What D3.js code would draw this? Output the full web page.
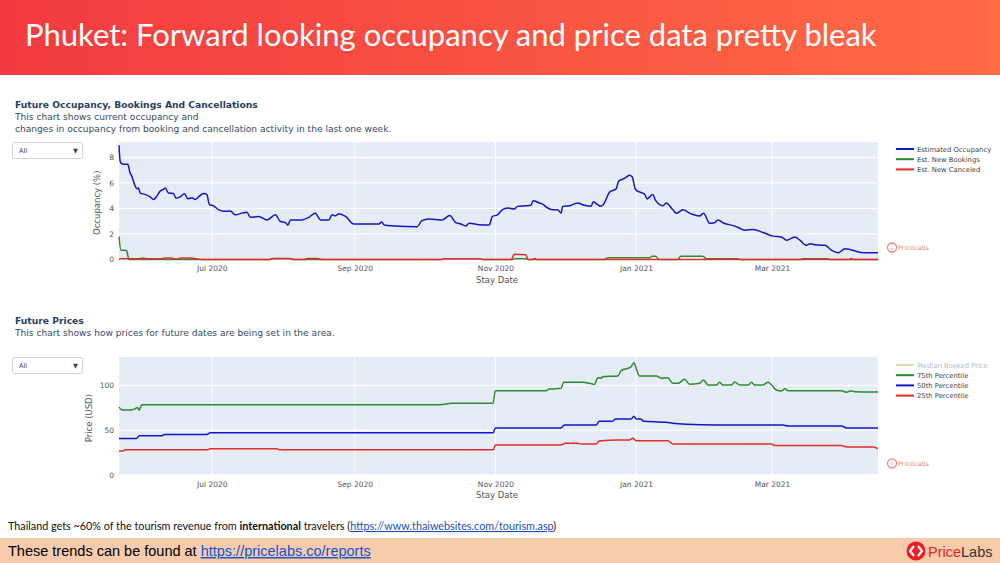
<!DOCTYPE html>
<html><head><meta charset="utf-8">
<script src="https://cdn.jsdelivr.net/npm/d3@7"></script>
<style>body{margin:0;background:#fff} svg{display:block}</style>
</head><body>
<svg id="c" width="1000" height="563"></svg>
<script>
// ---------- DATA ----------
const startDate = "2020-05-21";           // day offset 0
const endOffset = 330;
const xTickDates = ["2020-07-01","2020-09-01","2020-11-01","2021-01-01","2021-03-01"];
const xTickLabels = ["Jul 2020","Sep 2020","Nov 2020","Jan 2021","Mar 2021"];
const occTicks = [0,2,4,6,8];
const priceTicks = [0,50,100];

// Estimated Occupancy (%)
const occDays = [0.7,1.2,2,3.3,4.5,5.5,6.2,7.7,8.4,9.1,9.9,12,14.2,15.7,17.1,18.6,20,20.7,22.2,24.3,25.4,27.2,29.1,30.6,32.3,33.8,35.2,37.4,38.8,39.9,41.7,43.9,46.1,49,51.2,54.1,56.2,57.7,61.3,64.9,68.6,70.7,72.9,74,75.1,80.1,83,85.9,88.1,91.7,93.2,94.6,96.1,99,102.6,113.5,114.6,115.7,120,130.1,132,135.2,141,144.2,146.8,149,151.2,152.6,157,161.3,162.7,164.9,167.1,169.3,172.2,173.6,177.3,179.4,180.4,183,184.5,186.7,188.8,191,192.5,193.2,196.1,199.7,202.6,205.5,206.5,208.4,209.9,211.3,213.5,216.4,217.5,220,222.2,223.3,224.8,226.5,228.7,229.9,230.9,232.3,233.5,236.7,238.1,241,242.5,245.3,249,252.6,254.3,257,259.1,260.6,262.7,267.1,269.3,272.2,275.8,280.1,284.5,288.1,290.3,293.9,296.1,299,300.4,302.6,307,309.9,312.7,315.7,317.9,320.7,323.6,330];
const occValues = [8.94,7.7,7.5,7.45,7.45,6.8,6.55,5.76,5.54,5.6,5.2,5.1,4.9,4.7,4.96,5.36,5.5,5.6,5.2,5.17,4.8,4.9,5.15,4.75,4.83,4.7,4.9,5.17,5.1,4.3,4.2,3.9,3.77,3.8,3.5,3.63,3.7,3.3,3.37,3.1,3.5,2.97,2.89,2.7,3.1,3.1,3.3,3.63,3.1,3.1,3.5,3.42,3.58,3.37,2.78,2.78,2.94,2.7,2.63,2.57,3.02,3.18,3.1,3.45,2.89,2.78,2.63,2.84,2.73,2.7,3.37,3.5,3.9,4.03,3.95,4.16,4.2,4.24,4.6,4.43,4.34,4.03,3.9,3.9,3.63,4.16,4.2,4.43,4.24,4.16,4.52,4.29,4.16,4.43,5.27,5.53,6.14,6.35,6.59,6.48,5.48,5.29,5.13,4.74,4.9,5.08,4.63,4.21,4.42,3.89,3.62,3.89,3.57,3.41,3.62,2.83,2.88,3.1,2.88,2.65,2.51,2.3,2.35,2.12,1.83,1.77,1.51,1.77,1.51,1.11,1.24,1.16,1.11,0.71,0.53,0.85,0.79,0.63,0.53,0.53];

// Est. New Bookings
const bookDays = [0.7,1.5,4,5,66,67.5,75,76.5,140.5,142,157,158.5,171,172.5,177,178.5,211,213,231,232,233.5,235,243,244.5,254,255.5,269,270.5,296,297.5,308,309.5,330];
const bookValues = [1.8,0.75,0.7,0,0,0.05,0.05,0,0,0.06,0.06,0,0,0.05,0.05,0,0,0.13,0.13,0.25,0.25,0,0,0.25,0.25,0.05,0.05,0,0,0.05,0.05,0,0];

// Est. New Canceled
const cancDays = [0.7,1.5,9,11,13,19,20.5,23.5,25,26,27.5,31,33,35,36.5,66,67.5,75,76.5,81,82.5,87,88.5,140.5,142,157,158.5,171,172.2,177,178.3,180,181,182,317.5,318.5,319.5,330];
const cancValues = [0,0.05,0.05,0.11,0.05,0.05,0.12,0.12,0.04,0.04,0.11,0.12,0.1,0.03,0,0,0.08,0.08,0,0,0.08,0.08,0,0,0.06,0.06,0,0,0.42,0.38,0,0,0.07,0,0,0.07,0,0];

// Prices (USD)
const p75Days = [0.7,1.9,3.3,6.2,7.7,8.8,9.4,10.6,140,145,163,164,186,187.4,192.5,193.6,201.9,204.8,207,208.4,209.9,210.6,217.1,218.6,221.4,222.9,224.1,225.1,226.5,233.8,236,238.8,241,243.2,246.1,248.3,252.6,254.3,256.2,259.9,261.3,262.7,266.4,267.8,270,273.6,275.1,276.5,280.1,282.3,283.8,285.9,288.1,289.6,291,314.2,316.4,317.8,320,330];
const p75Values = [75.8,72.9,72.5,72.5,74,75.5,72.1,78.4,78.4,80,80,94,94,95.9,96.7,103.3,103.3,102.2,101,108.5,107.8,109.6,110.4,116.3,118.9,120.7,125.2,118.9,110.4,110.4,107.8,108.5,102.2,102.2,106.7,101.1,102.2,105.9,100.4,100.4,103.3,100.4,100.4,103.7,100.4,100.4,103.3,100.4,100.4,103.3,100.4,94.8,93.7,96.3,94,94,92.2,93.7,93,92.6];
const p50Days = [0.7,8.3,9.5,19.3,20.3,38.8,40.3,163,164,192.5,193.9,207.7,209.1,214.9,216.1,222.9,224.1,225.1,227.2,228,238.1,241,246.8,259.9,288.8,291,314.2,316.4,330];
const p50Values = [40.9,40.9,43.9,43.9,45.4,45.4,47.2,47.2,52.6,52.6,55.9,55.9,60,60,62.6,62.6,65.6,62.6,62.6,60.4,58.9,57.8,56.7,55.9,55.9,54.8,54.8,52.6,52.6];
const p25Days = [0.7,2.5,3.3,38.8,40.3,69.3,70.5,163,164,192.5,194.3,199.7,201.2,207.7,209.1,217.1,222.2,223.6,225.1,238.8,241,283.8,285.2,314.2,316.4,328,330];
const p25Values = [27.1,27.1,28.3,28.3,29.4,29.4,28.3,28.3,33.7,33.7,35.6,35.6,34.8,34.8,38.1,39.3,39.3,41.1,38.5,38.5,34.8,34.8,33,33,31.5,31.5,29.6];

const occLegend = ["Estimated Occupancy","Est. New Bookings","Est. New Canceled"];
const priceLegend = ["Median Booked Price","75th Percentile","50th Percentile","25th Percentile"];

// ---------- DRAW ----------
const svg = d3.select("#c");
const parse = d3.utcParse("%Y-%m-%d");
const t0 = parse(startDate);
const dayToDate = d => new Date(t0.getTime() + d * 864e5);
const zip = (ds, vs) => ds.map((d, i) => ({date: dayToDate(d), v: vs[i]}));

const COL = {blue: "#1414c8", green: "#2f8a2f", red: "#e62a2a"};
const FONT = "'DejaVu Sans', Verdana, sans-serif";

svg.append("rect").attr("width",1000).attr("height",563).attr("fill","#fff");

// title bar
const defs = svg.append("defs");
const g = defs.append("linearGradient").attr("id","tg").attr("x1","0").attr("x2","1");
g.append("stop").attr("offset","0").attr("stop-color","#f23a40");
g.append("stop").attr("offset","1").attr("stop-color","#ff6b45");
svg.append("rect").attr("x",0).attr("y",0).attr("width",1000).attr("height",75).attr("fill","url(#tg)");
svg.append("text").attr("x",25).attr("y",46).attr("fill","#fff")
  .style("font-family","Lato, 'Open Sans', sans-serif").style("font-size","31px")
  .text("Phuket: Forward looking occupancy and price data pretty bleak");

function panel(cfg) {
  const L = 119, R = 878;
  const x = d3.scaleUtc().domain([dayToDate(0.7), dayToDate(endOffset)]).range([L, R]);
  const y = d3.scaleLinear().domain(cfg.yDomain).range([cfg.bottom, cfg.top]);

  svg.append("text").attr("x",15).attr("y",cfg.headY).attr("fill","#2a3f5f")
    .style("font-family",FONT).style("font-size","9.2px").style("font-weight","bold").text(cfg.title);
  cfg.sub.forEach((s,i) => svg.append("text").attr("x",15).attr("y",cfg.headY+12+12*i).attr("fill","#3a4a5f")
    .style("font-family",FONT).style("font-size","9.1px").text(s));

  // dropdown
  svg.append("rect").attr("x",12.5).attr("y",cfg.top+0.5).attr("width",70).attr("height",16).attr("rx",2)
    .attr("fill","#fff").attr("stroke","#d4d4d4");
  svg.append("text").attr("x",19).attr("y",cfg.top+11).attr("fill","#444").style("font-family",FONT).style("font-size","6.5px").text("All");
  svg.append("text").attr("x",73).attr("y",cfg.top+11).attr("fill","#444").style("font-family",FONT).style("font-size","6.5px").text("▼");

  svg.append("rect").attr("x",L).attr("y",cfg.top).attr("width",R-L).attr("height",cfg.bottom-cfg.top).attr("fill","#e5ecf6");
  const tickDates = xTickDates.map(parse);
  svg.append("g").selectAll("line").data(tickDates).join("line")
    .attr("x1",d=>x(d)).attr("x2",d=>x(d)).attr("y1",cfg.top).attr("y2",cfg.bottom).attr("stroke","#fff").attr("stroke-width",1);
  svg.append("g").selectAll("line").data(cfg.yTicks).join("line")
    .attr("x1",L).attr("x2",R).attr("y1",d=>y(d)).attr("y2",d=>y(d)).attr("stroke","#fff").attr("stroke-width",d=>d===0?2:1);

  const xa = svg.append("g").attr("transform",`translate(0,${cfg.bottom})`)
    .call(d3.axisBottom(x).tickValues(tickDates).tickFormat((d,i)=>xTickLabels[i]).tickSize(0).tickPadding(6));
  xa.select(".domain").remove();
  xa.selectAll("text").attr("fill","#555").style("font-family",FONT).style("font-size","7.5px");
  const ya = svg.append("g").attr("transform",`translate(${L},0)`)
    .call(d3.axisLeft(y).tickValues(cfg.yTicks).tickSize(0).tickPadding(5));
  ya.select(".domain").remove();
  ya.selectAll("text").attr("fill","#555").style("font-family",FONT).style("font-size","7.5px");

  svg.append("text").attr("x",497).attr("y",cfg.bottom+23).attr("text-anchor","middle").attr("fill","#555")
    .style("font-family",FONT).style("font-size","8.5px").text("Stay Date");
  svg.append("text").attr("transform",`translate(${cfg.yTitleX},${(cfg.top+cfg.bottom)/2+2}) rotate(-90)`)
    .attr("text-anchor","middle").attr("fill","#555").style("font-family",FONT).style("font-size","8.5px").text(cfg.yTitle);

  const clipId = "clip" + Math.round(cfg.top);
  defs.append("clipPath").attr("id",clipId).append("rect").attr("x",L-1).attr("y",cfg.top-2).attr("width",R-L+3).attr("height",cfg.bottom-cfg.top+4);
  const line = d3.line().x(d=>x(d.date)).y(d=>y(d.v)).curve(d3.curveMonotoneX);
  const lg = svg.append("g").attr("clip-path",`url(#${clipId})`);
  cfg.series.forEach(s => {
    lg.append("path").datum(s.data).attr("d",line).attr("fill","none").attr("stroke",s.color)
      .attr("stroke-width",1.5).attr("stroke-linejoin","round");
  });

  cfg.legend.forEach((l,i) => {
    const yy = cfg.legY + i*10.2;
    svg.append("line").attr("x1",896).attr("x2",914).attr("y1",yy).attr("y2",yy).attr("stroke",l.color).attr("stroke-width",2);
    svg.append("text").attr("x",917).attr("y",yy+2.5).attr("fill",l.text||"#444")
      .style("font-family",FONT).style("font-size","6.8px").text(l.name);
  });

  const wy = cfg.bottom - 12;
  svg.append("circle").attr("cx",892).attr("cy",wy).attr("r",4.5).attr("fill","none").attr("stroke","#f08080").attr("stroke-width",1.3);
  svg.append("text").attr("x",892).attr("y",wy+2).attr("text-anchor","middle").attr("fill","#f08080").style("font-family",FONT).style("font-size","5px").style("font-weight","bold").text("‹›");
  svg.append("text").attr("x",898).attr("y",wy+2.5).attr("fill","#e59090").style("font-family",FONT).style("font-size","6.5px").text("PriceLabs");
}

panel({
  title: "Future Occupancy, Bookings And Cancellations",
  sub: ["This chart shows current occupancy and","changes in occupancy from booking and cancellation activity in the last one week."],
  headY: 108, top: 142, bottom: 259.5, yDomain: [0, 9.2], yTicks: occTicks,
  yTitle: "Occupancy (%)", yTitleX: 100, legY: 149,
  series: [
    {data: zip(bookDays, bookValues), color: COL.green},
    {data: zip(cancDays, cancValues), color: COL.red},
    {data: zip(occDays, occValues), color: COL.blue}
  ],
  legend: [{name: occLegend[0], color: COL.blue},{name: occLegend[1], color: COL.green},{name: occLegend[2], color: COL.red}]
});

panel({
  title: "Future Prices",
  sub: ["This chart shows how prices for future dates are being set in the area."],
  headY: 324, top: 357, bottom: 475.3, yDomain: [0, 131.5], yTicks: priceTicks,
  yTitle: "Price (USD)", yTitleX: 92, legY: 365,
  series: [
    {data: zip(p25Days, p25Values), color: COL.red},
    {data: zip(p50Days, p50Values), color: COL.blue},
    {data: zip(p75Days, p75Values), color: COL.green}
  ],
  legend: [{name: priceLegend[0], color: "#e8d9a8", text: "#bbb"},{name: priceLegend[1], color: COL.green},{name: priceLegend[2], color: COL.blue},{name: priceLegend[3], color: COL.red}]
});

// footer note
const note = svg.append("text").attr("x",8).attr("y",530).attr("fill","#111")
  .style("font-family","Lato, 'Open Sans', sans-serif").style("font-size","10.8px");
note.append("tspan").text("Thailand gets ~60% of the tourism revenue from ");
note.append("tspan").style("font-weight","bold").text("international");
note.append("tspan").text(" travelers (");
note.append("tspan").attr("fill","#1a4fb5").style("text-decoration","underline").text("https://www.thaiwebsites.com/tourism.asp");
note.append("tspan").text(")");

// footer bar
svg.append("rect").attr("x",0).attr("y",538).attr("width",1000).attr("height",25).attr("fill","#f8cbad");
const ft = svg.append("text").attr("x",8).attr("y",556).attr("fill","#000")
  .style("font-family","'Liberation Sans', Arial, sans-serif").style("font-size","14.5px");
ft.append("tspan").text("These trends can be found at ");
ft.append("tspan").attr("fill","#1155cc").style("text-decoration","underline").text("https://pricelabs.co/reports");

// logo
svg.append("circle").attr("cx",916).attr("cy",551).attr("r",9.5).attr("fill","#ee1c25");
svg.append("path").attr("d","M914,546 L910,551 L914,556 M918,546 L922,551 L918,556").attr("fill","none").attr("stroke","#fff").attr("stroke-width",2.2);
const lt = svg.append("text").attr("x",928).attr("y",556.5).style("font-family","'Liberation Sans', Arial, sans-serif").style("font-size","14.5px");
lt.append("tspan").attr("fill","#ee1c25").text("Price");
lt.append("tspan").attr("fill","#333").text("Labs");
</script>
</body></html>
